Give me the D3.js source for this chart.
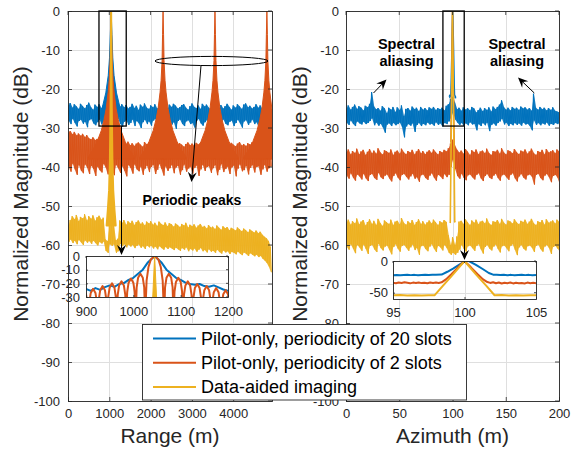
<!DOCTYPE html>
<html><head><meta charset="utf-8">
<script src="https://cdn.jsdelivr.net/npm/d3@7"></script>
<style>
body{margin:0;background:#fff}
svg{display:block}
text{font-family:"Liberation Sans",Arial,Helvetica,sans-serif}
</style></head>
<body><svg id="c" width="571" height="449"></svg>
<script>
// ---------------- DATA ----------------
const dbTicks = [-100,-90,-80,-70,-60,-50,-40,-30,-20,-10,0];
const dbTicksRightVisible = [-100,-80,-70,-60,-50,-40,-30,-20,-10,0]; // -90 is hidden behind the legend
const rangeTicks = [0,1000,2000,3000,4000];
const azTicks = [0,50,100,150,200];
const rangeInsetXTicks = [900,1000,1100,1200];
const rangeInsetYTicks = [-30,-20,-10,0];
const azInsetXTicks = [95,100,105];
const azInsetYTicks = [-50,0];
const seriesNames = ["Pilot-only, periodicity of 20 slots","Pilot-only, periodicity of 2 slots","Data-aided imaging"];
const rangeStep = 50;   // m between samples
const azStep = 2;       // m between samples

// Range profile, pilot-only 20 slots (blue): upper / lower envelope per sample
const blueRangeHi = [-24.2,-23.6,-24.8,-23.9,-24.5,-25.1,-23.8,-24.4,-25.0,-24.1,
-23.5,-24.7,-25.3,-24.0,-24.6,-23.9,-24.9,-24.2,-23.7,-25.0,
-24.4,-24.8,-23.6,-24.3,-25.2,-24.5,-23.9,-24.7,-24.1,-25.0,
-24.6,-23.8,-24.9,-24.3,-25.4,-24.0,-24.6,-23.7,-24.8,-25.1,
-24.2,-24.7,-23.9,-25.0,-24.4,-23.6,-24.9,-24.5,-25.2,-24.0,
-24.6,-23.8,-24.3,-25.0,-24.7,-24.1,-23.9,-24.8,-25.3,-24.4,
-23.7,-24.6,-24.9,-24.2,-25.1,-23.8,-24.5,-24.0,-24.8,-25.2,
-24.3,-23.6,-24.7,-24.9,-24.1,-25.0,-24.4,-23.8,-24.6,-25.3,
-24.2,-24.8,-23.9,-24.5,-25.1,-24.0,-23.7,-24.7,-24.3,-25.0,
-24.6,-23.9,-24.8,-24.2,-25.2,-24.4,-23.8,-24.5,-24.1];
const blueRangeLo = [-28.1,-29.0,-27.6,-28.7,-29.6,-28.2,-27.9,-28.9,-28.4,-29.8,
-28.0,-27.7,-28.8,-29.3,-28.5,-27.8,-29.1,-28.3,-30.1,-28.6,
-27.9,-28.8,-29.4,-28.1,-27.6,-28.9,-29.7,-28.4,-28.0,-29.2,
-28.7,-27.8,-29.5,-28.2,-28.8,-30.0,-28.5,-27.9,-29.0,-28.3,
-29.4,-28.1,-27.7,-28.9,-29.8,-28.4,-28.0,-29.3,-28.6,-27.9,
-29.1,-28.5,-30.2,-28.2,-27.8,-28.9,-29.5,-28.3,-28.0,-29.0,
-28.7,-29.9,-28.1,-27.7,-28.8,-29.4,-28.5,-28.0,-29.6,-28.3,
-27.9,-29.0,-28.6,-30.0,-28.2,-27.8,-28.9,-29.3,-28.4,-28.1,
-29.5,-28.7,-27.9,-28.8,-29.9,-28.3,-28.0,-29.2,-28.6,-27.8,
-29.0,-28.5,-29.7,-28.2,-28.0,-28.9,-29.3,-28.4,-28.7];
// Range profile, pilot-only 2 slots (orange)
const orangeRangeHi = [-31.2,-30.8,-31.6,-31.0,-31.9,-31.4,-32.0,-31.5,-32.3,-31.8,-32.6,-32.9,-32.4,-33.1,-32.8,
-32.5,-33.0,-32.2,-32.8,-32.0,-31.8,-32.4,-32.1,-32.7,-33.0,-32.5,
-33.2,-33.8,-34.1,-33.5,-34.4,-33.9,-34.6,-34.0,-33.7,-34.3,-34.8,-33.6,-34.2,-33.9,-34.5,-33.8,-34.1,-33.5,-33.9,-33.3,-33.0,
-33.4,-33.8,-34.2,-33.6,-34.5,-34.0,-34.7,-33.9,-34.3,-34.8,-34.1,-33.7,-34.4,-34.0,-34.6,-33.8,-34.2,-33.9,-34.4,-33.6,-34.0,-33.5,-33.9,-33.2,-33.0,
-33.3,-33.9,-34.1,-33.6,-34.4,-34.0,-34.6,-33.8,-34.3,-34.7,-34.0,-33.6,-34.5,-34.1,-34.6,-33.9,-34.2,-33.7,-34.3,-33.8,-33.5,-33.9,-33.2,-33.0,-32.8,-33.1,-32.6];
const orangeRangeLo = [-39.8,-41.2,-39.1,-40.6,-42.0,-39.5,-40.9,-41.6,-39.3,-40.2,
-41.8,-39.7,-40.5,-42.3,-39.9,-40.8,-41.4,-39.2,-40.1,-41.9,
-39.6,-40.7,-42.1,-39.4,-40.3,-41.5,-39.8,-40.9,-42.4,-39.5,
-40.2,-41.7,-39.3,-40.6,-41.1,-39.9,-42.0,-40.4,-39.6,-41.3,
-40.0,-39.4,-41.8,-40.7,-39.2,-40.5,-42.2,-39.8,-41.0,-40.3,
-39.5,-41.6,-40.1,-39.7,-42.0,-40.8,-39.3,-41.2,-40.4,-39.9,
-41.7,-40.2,-39.6,-42.3,-40.6,-39.4,-41.0,-40.0,-39.8,-41.5,
-40.3,-39.5,-42.1,-40.7,-39.2,-41.3,-40.5,-39.9,-41.8,-40.1,
-39.6,-42.4,-40.4,-39.3,-41.1,-40.8,-39.7,-41.9,-40.2,-39.5,
-41.4,-40.0,-39.8,-42.0,-40.6,-39.4,-41.2,-40.3,-39.9];
// Range profile, data-aided (yellow)
const yellowRangeHi = [-55.0,-53.6,-52.6,-53.4,-52.3,-53.9,-52.8,-53.2,-52.1,-53.7,
-52.6,-53.3,-52.4,-53.8,-52.9,-52.5,-53.5,-53.0,-58.6,-59.0,
-54.5,-54.0,-54.6,-58.8,-58.4,-53.7,-54.3,-53.6,-54.8,-53.9,
-54.4,-53.8,-54.9,-54.1,-53.7,-54.6,-54.2,-55.0,-54.0,-54.5,
-53.9,-54.8,-54.3,-55.1,-54.0,-54.6,-54.9,-54.2,-55.2,-54.4,
-54.7,-55.3,-54.5,-54.9,-55.4,-54.6,-55.0,-54.3,-55.5,-54.8,
-55.2,-54.7,-55.6,-55.0,-54.6,-55.4,-55.1,-55.8,-54.9,-55.5,
-55.3,-55.9,-55.0,-55.6,-56.1,-55.2,-55.7,-55.4,-56.2,-55.6,
-55.9,-56.3,-55.5,-56.0,-56.5,-55.8,-56.2,-56.7,-56.0,-56.4,
-56.8,-56.3,-57.0,-56.6,-57.4,-57.9,-58.3,-59.0,-60.5];
const yellowRangeLo = [-59.2,-58.6,-59.5,-58.9,-59.8,-58.7,-59.3,-60.0,-58.8,-59.4,
-59.0,-59.7,-58.9,-59.5,-60.1,-59.2,-59.6,-59.1,-61.5,-62.0,
-59.8,-60.2,-59.9,-62.0,-61.6,-59.7,-60.3,-59.8,-60.6,-59.9,
-60.4,-60.0,-60.8,-60.2,-59.9,-60.7,-60.3,-61.0,-60.1,-60.6,
-60.2,-60.9,-60.4,-61.1,-60.3,-60.8,-61.2,-60.5,-61.0,-60.6,
-60.9,-61.3,-60.7,-61.1,-61.5,-60.8,-61.2,-60.6,-61.6,-61.0,
-61.4,-60.9,-61.7,-61.2,-60.8,-61.6,-61.3,-61.9,-61.1,-61.7,
-61.5,-62.0,-61.2,-61.8,-62.2,-61.4,-61.9,-61.6,-62.3,-61.8,
-62.0,-62.4,-61.7,-62.2,-62.6,-61.9,-62.3,-62.8,-62.1,-62.5,
-62.9,-62.5,-63.1,-62.8,-63.5,-64.0,-64.6,-65.5,-67.0];
// Range peaks: centres (m) and lobe shapes [offset m, dB]
const targetRange = 1045;
const orangeRangePeakCentres = [1045, 2302, 3559, 4816];
const orangeRangePeakShape = [[-560,-37.5],[-440,-35.6],[-340,-33.5],[-240,-30.7],[-170,-27.8],[-120,-25],[-72,-20.8],[-48,-17.8],[-24,-12.7],[-12,-6],[0,0],[12,-6],[24,-12.7],[48,-17.8],[72,-20.8],[120,-25],[170,-27.8],[240,-30.7],[340,-33.5],[440,-35.6],[560,-37.5]];
const blueRangePeakShape = [[-220,-25],[-130,-21],[-70,-16.5],[-40,-12],[-20,-6],[0,0],[20,-6],[40,-12],[70,-16.5],[130,-21],[220,-25]];
const yellowRangePeakShape = [[-110,-55],[-80,-51],[-50,-46],[-30,-38],[-15,-25],[-6,-12],[0,0],[6,-12],[15,-25],[30,-38],[50,-46],[80,-51],[110,-55]];
// Range inset (fine resolution around the target)
const orangeRangeZoom = [
[885,-45],[887,-35],[890,-28],[895,-25],[900,-28],[903,-35],
[905,-45],[907,-34],[910,-27],[915,-24],[920,-27],[923,-34],
[925,-45],[927,-32],[930,-25],[935,-22],[940,-25],[943,-32],
[945,-45],[947,-30],[950,-23],[955,-20],[960,-23],[963,-30],
[965,-45],[967,-28.5],[970,-21.5],[975,-18.5],[980,-21.5],[983,-28.5],
[985,-45],[987,-26.5],[990,-19.5],[995,-16.5],[1000,-19.5],[1003,-26.5],
[1005,-45],[1007,-23],[1010,-16],[1015,-13],[1020,-16],[1023,-23],
[1025,-45],[1028,-18],[1032,-8],[1037,-2.5],[1045,0],[1053,-2.5],[1058,-8],[1062,-18],
[1065,-45],[1067,-23],[1070,-16],[1075,-13],[1080,-16],[1083,-23],
[1085,-45],[1087,-26],[1090,-19],[1095,-16],[1100,-19],[1103,-26],
[1105,-45],[1107,-28.5],[1110,-21.5],[1115,-18.5],[1120,-21.5],[1123,-28.5],
[1125,-45],[1127,-30.5],[1130,-23.5],[1135,-20.5],[1140,-23.5],[1143,-30.5],
[1145,-45],[1147,-32],[1150,-25],[1155,-22],[1160,-25],[1163,-32],
[1165,-45],[1167,-33.5],[1170,-26.5],[1175,-23.5],[1180,-26.5],[1183,-33.5],
[1185,-45],[1187,-35],[1190,-28],[1195,-25],[1200,-28],[1203,-35],[1205,-45]];
const blueRangeZoom = [[890,-24.5],[900,-24],[910,-25.5],[920,-23.5],[930,-24.8],[940,-22.8],[950,-21.5],[960,-22.6],[970,-20.5],[980,-19.8],[990,-17.5],[1000,-16],[1010,-13],[1020,-10],[1030,-5],[1045,0],[1060,-5],[1070,-10],[1080,-13],[1090,-16],[1100,-17.5],[1110,-19.5],[1120,-20.5],[1130,-21],[1140,-20.5],[1150,-22],[1160,-22.5],[1170,-21.5],[1180,-23],[1190,-24.5],[1200,-25.5],[1210,-26]];
const yellowRangeZoom = [[1038,-45],[1041,-30],[1045,0],[1049,-30],[1052,-45]];

// Azimuth profile (blue)
const blueAzHi = [-25.0,-24.2,-25.3,-24.6,-24.0,-25.1,-24.4,-24.8,-25.5,-24.3,
-24.7,-23.8,-20.8,-24.5,-25.2,-24.9,-25.6,-24.4,-25.0,-26.2,
-24.8,-25.3,-24.6,-25.9,-24.7,-25.4,-24.2,-27.0,-25.1,-24.9,
-25.6,-24.5,-25.2,-24.8,-25.7,-24.6,-25.3,-24.9,-25.5,-24.7,
-25.1,-24.6,-25.4,-24.9,-25.2,-24.8,-25.5,-24.3,-23.9,-22.5,
-22.0,
-23.5,-25.2,-24.8,-25.6,-24.7,-25.3,-24.9,-25.5,-24.6,
-25.0,-26.0,-25.4,-24.8,-25.7,-24.9,-25.4,-24.7,-25.8,-24.5,
-25.2,-24.6,-24.0,-22.9,-24.7,-25.3,-24.8,-25.5,-24.6,-25.1,
-24.8,-25.4,-24.5,-25.0,-24.7,-25.3,-24.9,-25.6,-21.2,-24.8,
-25.3,-24.6,-25.2,-24.8,-25.5,-24.9,-25.4,-24.7,-25.6,-25.8,-26.0];
const blueAzLo = [-28.6,-29.2,-28.1,-28.9,-29.5,-28.3,-28.8,-29.1,-28.4,-29.0,
-28.7,-28.2,-27.5,-29.3,-28.6,-29.4,-28.9,-29.8,-31.2,-29.1,
-28.8,-29.5,-28.7,-29.3,-29.0,-28.6,-29.7,-32.4,-29.6,-29.0,
-29.4,-28.8,-31.0,-29.2,-28.7,-29.5,-28.9,-29.3,-28.6,-29.1,
-28.9,-29.4,-28.5,-29.2,-28.8,-29.6,-28.7,-29.0,-28.3,-27.5,
-26.0,
-27.8,-28.6,-29.2,-28.7,-29.4,-28.8,-29.3,-28.5,-29.1,
-28.9,-30.6,-29.0,-29.5,-28.7,-29.3,-28.6,-30.8,-29.2,-28.8,
-29.4,-28.7,-28.3,-27.6,-29.1,-28.6,-29.5,-28.9,-29.3,-28.7,
-29.2,-28.8,-29.4,-28.6,-29.1,-28.9,-29.5,-30.6,-28.0,-29.2,
-28.7,-29.3,-28.8,-29.1,-28.6,-29.4,-28.9,-29.2,-28.7,-29.0,-28.5];
const orangeAzHi = [-36.2,-35.5,-36.8,-35.9,-36.4,-35.3,-36.7,-36.0,-35.6,-36.9,
-36.1,-35.4,-36.5,-35.8,-36.6,-35.2,-36.3,-36.8,-35.7,-36.0,
-36.4,-35.5,-36.9,-36.1,-35.8,-36.6,-35.3,-36.2,-36.7,-35.9,
-36.3,-35.6,-36.8,-36.0,-35.4,-36.5,-35.9,-36.7,-36.1,-35.7,
-36.4,-35.5,-36.2,-36.8,-35.9,-36.3,-35.6,-36.0,-35.2,-34.0,
-33.0,
-34.5,-35.6,-36.3,-35.8,-36.6,-35.4,-36.1,-36.9,-35.7,-36.2,
-35.5,-36.7,-36.0,-35.8,-36.5,-35.3,-36.4,-36.9,-35.9,-36.1,
-35.6,-36.6,-35.2,-36.3,-36.8,-35.7,-36.0,-36.5,-35.4,-36.2,
-36.7,-35.8,-36.1,-35.5,-36.6,-36.0,-35.3,-36.4,-36.9,-35.9,
-36.2,-35.6,-36.8,-35.4,-36.3,-36.0,-35.7,-36.5,-35.5,-36.1];
const orangeAzLo = [-42.1,-43.0,-41.6,-42.7,-43.5,-41.9,-42.4,-43.2,-41.7,-42.9,
-43.6,-42.0,-41.8,-42.8,-43.3,-41.5,-42.6,-43.1,-42.2,-41.9,
-42.9,-43.7,-42.3,-41.6,-42.7,-43.4,-42.0,-41.8,-42.5,-43.2,
-42.4,-41.7,-43.0,-42.6,-43.8,-42.1,-41.9,-42.8,-43.3,-42.2,
-41.6,-42.7,-43.5,-42.0,-42.4,-43.1,-41.8,-42.6,-42.0,-40.0,
-38.0,
-40.5,-42.3,-43.0,-41.7,-42.8,-43.4,-42.1,-41.9,-42.6,-43.2,
-42.0,-41.6,-42.9,-43.6,-42.3,-41.8,-42.7,-43.1,-42.2,-41.7,
-42.8,-43.5,-42.1,-41.9,-42.6,-43.3,-42.0,-41.6,-42.9,-43.7,
-42.4,-41.8,-42.7,-43.2,-42.1,-41.9,-42.5,-44.5,-42.0,-41.7,
-42.8,-43.4,-42.2,-41.8,-42.6,-43.9,-42.3,-42.0,-42.7,-44.2];
const yellowAzHi = [-54.2,-53.5,-54.8,-53.9,-54.5,-53.2,-54.7,-54.0,-53.6,-55.0,
-54.1,-53.4,-54.6,-53.8,-54.9,-53.3,-54.4,-55.1,-53.7,-54.2,
-54.6,-53.5,-54.9,-54.0,-53.8,-54.7,-53.1,-54.3,-54.8,-53.9,
-54.4,-53.6,-54.9,-54.1,-53.4,-54.6,-53.9,-54.8,-54.2,-53.7,
-54.5,-53.5,-54.2,-54.9,-53.9,-54.3,-53.6,-54.1,-57.5,-60.0,
-58.0,
-60.0,-57.8,-54.0,-53.8,-54.6,-53.4,-54.2,-54.9,-53.7,-54.3,
-53.5,-54.7,-54.0,-53.8,-54.5,-53.2,-54.4,-54.9,-53.9,-54.1,
-53.6,-54.6,-53.3,-54.3,-54.8,-53.7,-54.0,-54.5,-53.4,-54.2,
-54.7,-53.8,-54.1,-53.5,-54.6,-54.0,-53.3,-54.4,-54.9,-53.9,
-54.2,-53.6,-54.8,-53.4,-54.3,-54.0,-53.7,-54.5,-53.5,-54.1];
const yellowAzLo = [-60.3,-61.2,-59.8,-60.9,-62.1,-60.0,-60.6,-61.5,-59.9,-61.0,
-62.3,-60.2,-60.0,-61.1,-61.8,-59.7,-60.8,-61.4,-60.4,-60.1,
-61.2,-62.4,-60.5,-59.8,-60.9,-61.7,-60.2,-60.0,-60.7,-61.5,
-60.6,-59.9,-61.3,-60.8,-62.5,-60.3,-60.1,-61.0,-61.6,-60.4,
-59.8,-60.9,-61.8,-60.2,-60.6,-61.4,-60.0,-60.8,-62.0,-62.5,
-62.0,
-62.5,-62.0,-61.2,-60.0,-61.0,-61.7,-60.3,-60.1,-60.8,-61.5,
-60.2,-59.8,-61.1,-62.2,-60.5,-60.0,-60.9,-61.4,-60.4,-59.9,
-61.0,-61.9,-60.3,-60.1,-60.8,-61.6,-60.2,-59.8,-61.2,-62.6,
-60.6,-60.0,-60.9,-61.4,-60.3,-60.1,-60.7,-61.8,-60.2,-59.9,
-61.0,-61.7,-60.4,-60.0,-60.8,-62.3,-60.5,-60.2,-60.9,-61.6];
// Azimuth fine-resolution profiles around the target (shown in inset; main lobes also in main plot)
const blueAzZoom = [[95,-22.4],[95.25,-22.0],[95.5,-22.6],[95.75,-22.1],[96,-21.7],[96.25,-22.3],[96.5,-21.9],[96.75,-22.5],[97,-22.0],[97.25,-21.6],[97.5,-22.2],[97.75,-21.8],[98,-21.9],
[98.4,-21.5],[98.8,-17],[99.2,-12],[99.7,-5],[100.1,0],[100.3,0],[100.8,-6],[101.3,-13],[101.7,-19],[102,-21.6],
[102.25,-21.6],[102.5,-22.2],[102.75,-21.8],[103,-22.4],[103.25,-21.9],[103.5,-22.5],[103.75,-22.0],[104,-21.7],[104.25,-22.3],[104.5,-21.9],[104.75,-22.5],[105,-22.1]];
const orangeAzZoom = [[95,-34.2],[95.2,-35.1],[95.4,-34.0],[95.6,-34.8],[95.8,-33.6],[96,-34.5],[96.2,-35.3],[96.4,-34.1],[96.6,-34.7],[96.8,-33.8],[97,-34.9],[97.2,-34.3],[97.4,-35.0],[97.6,-33.9],[97.8,-34.6],[98,-34.0],[98.2,-34.8],[98.4,-33.7],
[98.7,-29],[99.1,-20.5],[99.55,-10],[100,0],[100.45,-10],[100.9,-20.5],[101.3,-29],[101.6,-33.2],
[101.8,-34.6],[102,-33.5],[102.2,-35.2],[102.4,-34.0],[102.6,-35.6],[102.8,-34.3],[103,-35.0],[103.2,-33.9],[103.4,-35.4],[103.6,-34.2],[103.8,-35.1],[104,-34.6],[104.2,-35.5],[104.4,-34.1],[104.6,-35.0],[104.8,-34.4],[105,-35.3]];
const yellowAzZoom = [[95,-54.2],[95.5,-53.8],[96,-54.4],[96.5,-53.9],[97,-54.3],[97.5,-54.0],[97.9,-54.2],[98.5,-39],[99.2,-21],[100,0],[100.8,-21],[101.5,-38.5],[102.1,-54.1],[102.6,-53.8],[103.1,-54.4],[103.6,-54.0],[104.1,-54.3],[104.6,-53.9],[105,-54.2]];

// ---------------- DRAWING ----------------
const COL = {blue:'#0072BD', orange:'#D95319', yellow:'#EDB120', axis:'#262626', grid:'#dfdfdf'};
const svg = d3.select('#c');
const FONT = '"Liberation Sans",Arial,Helvetica,sans-serif';

const yDb = d3.scaleLinear([-100,0],[401,11]);
const xRange = d3.scaleLinear([0,4940],[68,272]);
const xAz = d3.scaleLinear([0,200],[346,559]);

function zig(hi, lo, step){
  const pts=[];
  for(let i=0;i<hi.length;i++){ pts.push([i*step,hi[i]]); pts.push([(i+0.5)*step,lo[i]]); }
  return pts;
}
let clipId=0;
function makeClip(x0,y0,w,h){
  const id='clip'+(clipId++);
  svg.append('clipPath').attr('id',id).append('rect').attr('x',x0).attr('y',y0).attr('width',w).attr('height',h);
  return 'url(#'+id+')';
}
function grid(g,x,y,xt,yt){
  const [x0,x1]=x.range(), [y0,y1]=y.range();
  g.selectAll(null).data(xt).enter().append('line')
   .attr('x1',d=>Math.round(x(d))+0.5).attr('x2',d=>Math.round(x(d))+0.5).attr('y1',y1).attr('y2',y0)
   .attr('stroke',COL.grid).attr('stroke-width',1);
  g.selectAll(null).data(yt).enter().append('line')
   .attr('y1',d=>Math.round(y(d))+0.5).attr('y2',d=>Math.round(y(d))+0.5).attr('x1',x0).attr('x2',x1)
   .attr('stroke',COL.grid).attr('stroke-width',1);
}
function axes(g,x,y,xt,yt,opt){
  const [x0,x1]=x.range(), [y0,y1]=y.range();
  const fs = opt.fs||13;
  const ylab = opt.ylab||yt;
  const ax = g.append('g').attr('transform',`translate(0,${y0})`)
    .call(d3.axisBottom(x).tickValues(xt).tickFormat(d=>String(d)).tickSize(-opt.tick).tickSizeOuter(0).tickPadding(opt.xpad));
  const ay = g.append('g').attr('transform',`translate(${x0},0)`)
    .call(d3.axisLeft(y).tickValues(yt).tickFormat(d=>ylab.includes(d)?String(d):'').tickSize(-opt.tick).tickSizeOuter(0).tickPadding(opt.ypad));
  ay.selectAll('text').filter(function(){return this.textContent==='';}).remove();
  [ax,ay].forEach(a=>{
    a.select('.domain').remove();
    a.selectAll('line').attr('stroke',COL.axis).attr('stroke-width',0.8);
    a.selectAll('text').attr('fill',COL.axis).style('font-size',fs+'px').style('font-family',FONT);
  });
  g.selectAll(null).data(xt).enter().append('line')
    .attr('x1',d=>x(d)).attr('x2',d=>x(d)).attr('y1',y1).attr('y2',y1+opt.tick).attr('stroke',COL.axis).attr('stroke-width',0.8);
  g.selectAll(null).data(yt).enter().append('line')
    .attr('y1',d=>y(d)).attr('y2',d=>y(d)).attr('x1',x1).attr('x2',x1-opt.tick).attr('stroke',COL.axis).attr('stroke-width',0.8);
  g.append('rect').attr('x',x0+0.5).attr('y',y1+0.5).attr('width',x1-x0).attr('height',y0-y1)
   .attr('fill','none').attr('stroke',COL.axis).attr('stroke-width',0.9);
}
function linePath(g,x,y,pts,color,w,clip){
  g.append('path').attr('d',d3.line().x(d=>x(d[0])).y(d=>y(d[1]))(pts))
   .attr('fill','none').attr('stroke',color).attr('stroke-width',w).attr('stroke-linejoin','round').attr('clip-path',clip);
}
// noisy band: solid fill between the envelopes + zig-zag trace for the spiky edges
function band(g,x,y,hi,lo,step,color,clip){
  const idx = d3.range(hi.length);
  g.append('path').attr('d',d3.area().x(i=>x(i*step+step/4)).y0(i=>y(lo[i])).y1(i=>y(hi[i]))(idx))
   .attr('fill',color).attr('fill-opacity',0.9).attr('clip-path',clip);
  linePath(g,x,y,zig(hi,lo,step),color,1,clip);
}
function peakArea(g,x,y,pts,base,color,clip,sw){
  g.append('path').attr('d',d3.area().x(d=>x(d[0])).y0(y(base)).y1(d=>y(d[1]))(pts))
   .attr('fill',color).attr('stroke',color).attr('stroke-width',sw||1).attr('stroke-linejoin','round').attr('clip-path',clip);
}
function arrow(g,x1,y1,x2,y2){
  const dx=x2-x1, dy=y2-y1, L=Math.hypot(dx,dy), ux=dx/L, uy=dy/L, px=-uy, py=ux;
  const HL=10, HW=4.5, N=6.5;
  const bx=x2-ux*HL, by=y2-uy*HL;
  g.append('line').attr('x1',x1).attr('y1',y1).attr('x2',x2-ux*N).attr('y2',y2-uy*N).attr('stroke','#000').attr('stroke-width',1);
  g.append('path').attr('d',`M${x2},${y2}L${bx+px*HW},${by+py*HW}L${x2-ux*N},${y2-uy*N}L${bx-px*HW},${by-py*HW}Z`).attr('fill','#000');
}

// ===== LEFT: RANGE =====
const gL = svg.append('g');
grid(gL,xRange,yDb,rangeTicks,dbTicks);
const clipL = makeClip(68,11,204,390);
band(gL,xRange,yDb,blueRangeHi,blueRangeLo,rangeStep,COL.blue,clipL);
peakArea(gL,xRange,yDb,blueRangePeakShape.map(([o,v])=>[targetRange+o,v]),-27,COL.blue,clipL);
band(gL,xRange,yDb,orangeRangeHi,orangeRangeLo,rangeStep,COL.orange,clipL);
orangeRangePeakCentres.forEach(c=>peakArea(gL,xRange,yDb,orangeRangePeakShape.map(([o,v])=>[c+o,v]),-38,COL.orange,clipL));
band(gL,xRange,yDb,yellowRangeHi,yellowRangeLo,rangeStep,COL.yellow,clipL);
peakArea(gL,xRange,yDb,yellowRangePeakShape.map(([o,v])=>[targetRange+o,v]),-55,COL.yellow,clipL,2);
axes(gL,xRange,yDb,rangeTicks,dbTicks,{tick:4,xpad:8,ypad:8});

// ===== RIGHT: AZIMUTH =====
const gR = svg.append('g');
grid(gR,xAz,yDb,azTicks,dbTicks);
const clipR = makeClip(346,11,213,390);
const mainLobe = (pts,lo,hi)=>pts.filter(d=>d[0]>=lo && d[0]<=hi);
band(gR,xAz,yDb,blueAzHi,blueAzLo,azStep,COL.blue,clipR);
linePath(gR,xAz,yDb,mainLobe(blueAzZoom,97,103),COL.blue,1.3,clipR);
band(gR,xAz,yDb,orangeAzHi,orangeAzLo,azStep,COL.orange,clipR);
linePath(gR,xAz,yDb,mainLobe(orangeAzZoom,98.4,101.8),COL.orange,1.3,clipR);
band(gR,xAz,yDb,yellowAzHi,yellowAzLo,azStep,COL.yellow,clipR);
linePath(gR,xAz,yDb,mainLobe(yellowAzZoom,97.5,102.6),COL.yellow,1.6,clipR);
axes(gR,xAz,yDb,azTicks,dbTicks,{tick:4,xpad:8,ypad:7,ylab:dbTicksRightVisible});

// axis labels
[[170,'Range (m)'],[452.5,'Azimuth (m)']].forEach(([cx,t])=>{
  svg.append('text').attr('x',cx).attr('y',443).attr('text-anchor','middle')
    .style('font-size','21px').attr('fill',COL.axis).text(t);
});
[28,307].forEach(bx=>{
  svg.append('text').attr('transform',`translate(${bx},194) rotate(-90)`).attr('text-anchor','middle')
    .style('font-size','21px').attr('fill',COL.axis).text('Normalized Magnitude (dB)');
});

// ===== ANNOTATIONS =====
const gA = svg.append('g');
gA.append('rect').attr('x',xRange(750)).attr('y',yDb(0)).attr('width',xRange(1410)-xRange(750)).attr('height',yDb(-29.5)-yDb(0))
  .attr('fill','none').attr('stroke','#000').attr('stroke-width',1.3);
gA.append('rect').attr('x',xAz(91)).attr('y',yDb(0)).attr('width',xAz(111)-xAz(91)).attr('height',yDb(-29.5)-yDb(0))
  .attr('fill','none').attr('stroke','#000').attr('stroke-width',1.3);
arrow(gA,121.5,yDb(-29.5),121.5,255);
arrow(gA,464.5,yDb(-29.5),464.5,260);
gA.append('ellipse').attr('cx',211.5).attr('cy',61).attr('rx',56.5).attr('ry',4.6).attr('fill','none').attr('stroke','#000').attr('stroke-width',1);
arrow(gA,201,65.5,191.5,182);
gA.append('text').attr('x',192).attr('y',204.5).attr('text-anchor','middle').style('font-size','14px').style('font-weight','bold').text('Periodic peaks');
[[406.5,373.5,93,386.5,79.5],[517,534.3,93,518,77.5]].forEach(([cx,x1,y1,x2,y2])=>{
  gA.append('text').attr('x',cx).attr('y',49).attr('text-anchor','middle').style('font-size','14.5px').style('font-weight','bold').text('Spectral');
  gA.append('text').attr('x',cx).attr('y',66).attr('text-anchor','middle').style('font-size','14.5px').style('font-weight','bold').text('aliasing');
  arrow(gA,x1,y1,x2,y2);
});

// ===== INSET: RANGE =====
const xRI = d3.scaleLinear([900,1200],[86,228]);
const yRI = d3.scaleLinear([-30,0],[297,256]);
const gRI = svg.append('g');
gRI.append('rect').attr('x',86).attr('y',256).attr('width',142).attr('height',41).attr('fill','#fff');
grid(gRI,xRI,yRI,rangeInsetXTicks,rangeInsetYTicks);
const clipRI = makeClip(86,256,142,41);
linePath(gRI,xRI,yRI,blueRangeZoom,COL.blue,2,clipRI);
linePath(gRI,xRI,yRI,orangeRangeZoom,COL.orange,2,clipRI);
peakArea(gRI,xRI,yRI,yellowRangeZoom,-45,COL.yellow,clipRI);
axes(gRI,xRI,yRI,rangeInsetXTicks,rangeInsetYTicks,{tick:2,xpad:10,ypad:6});

// ===== INSET: AZIMUTH =====
const xAI = d3.scaleLinear([95,105],[393,536]);
const yAI = d3.scaleLinear([-60,0],[299,261]);
const gAI = svg.append('g');
gAI.append('rect').attr('x',393).attr('y',261).attr('width',143).attr('height',38).attr('fill','#fff');
grid(gAI,xAI,yAI,azInsetXTicks,azInsetYTicks);
const clipAI = makeClip(393,261,143,38);
linePath(gAI,xAI,yAI,blueAzZoom,COL.blue,2,clipAI);
linePath(gAI,xAI,yAI,orangeAzZoom,COL.orange,2,clipAI);
linePath(gAI,xAI,yAI,yellowAzZoom,COL.yellow,2,clipAI);
axes(gAI,xAI,yAI,azInsetXTicks,azInsetYTicks,{tick:2,xpad:9,ypad:5});

// ===== LEGEND =====
const gLeg = svg.append('g');
gLeg.append('rect').attr('x',142.5).attr('y',324.5).attr('width',324).attr('height',75.5)
  .attr('fill','#fff').attr('stroke',COL.axis).attr('stroke-width',0.9);
const legCols=[COL.blue,COL.orange,COL.yellow];
seriesNames.forEach((n,i)=>{
  const yy = 338.5 + i*24.2;
  gLeg.append('line').attr('x1',153).attr('x2',196).attr('y1',yy).attr('y2',yy).attr('stroke',legCols[i]).attr('stroke-width',2);
  gLeg.append('text').attr('x',201).attr('y',yy+6.5).style('font-size','18px').attr('fill','#000').text(n);
});
</script></body></html>
